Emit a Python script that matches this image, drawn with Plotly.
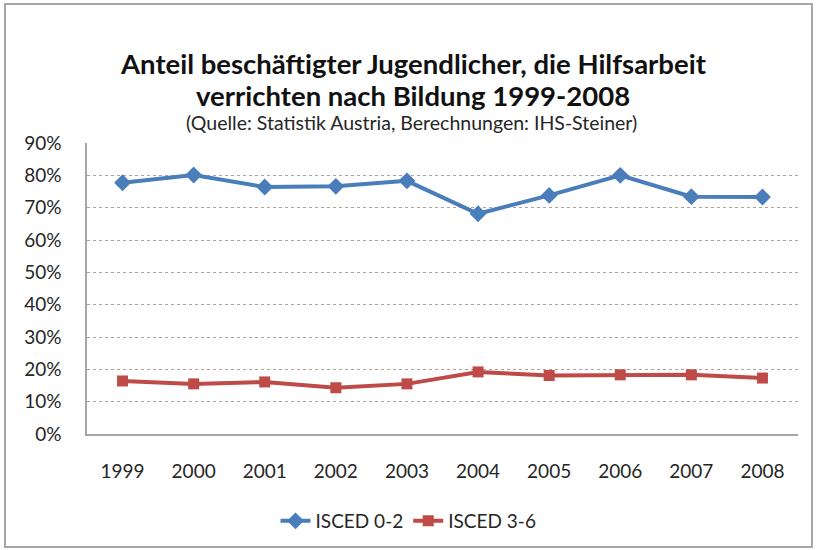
import plotly.graph_objects as go

years = ["1999", "2000", "2001", "2002", "2003", "2004", "2005", "2006", "2007", "2008"]
isced_0_2 = [0.777, 0.801, 0.764, 0.766, 0.783, 0.681, 0.738, 0.800, 0.734, 0.733]
isced_3_6 = [0.164, 0.155, 0.161, 0.143, 0.155, 0.192, 0.181, 0.183, 0.183, 0.173]
y_ticks = [0, 0.1, 0.2, 0.3, 0.4, 0.5, 0.6, 0.7, 0.8, 0.9]

FONT = "Lato"
W, H = 817, 550
L, R, T, B = 87, 19, 143, 116

fig = go.Figure()
fig.add_trace(go.Scatter(
    x=years, y=isced_0_2, name="ISCED 0-2", mode="lines+markers",
    line=dict(color="#4A7EBB", width=4),
    marker=dict(symbol="diamond", size=13, color="#4A7EBB"),
))
fig.add_trace(go.Scatter(
    x=years, y=isced_3_6, name="ISCED 3-6", mode="lines+markers",
    line=dict(color="#BE4B48", width=4),
    marker=dict(symbol="square", size=11, color="#BE4B48"),
))

pw = W - L - R
ph = H - T - B

def px_x(x):
    return (x - L) / pw

def px_y(y):
    return (H - B - y) / ph

fig.update_layout(
    width=W, height=H,
    margin=dict(l=L, r=R, t=T, b=B, autoexpand=False),
    paper_bgcolor="white", plot_bgcolor="white",
    font=dict(family=FONT, color="#262626", size=19),
    showlegend=True,
    legend=dict(orientation="h", x=0.5, xanchor="center", xref="container",
                y=(H - 521) / H, yanchor="middle", yref="container",
                font=dict(size=19, color="#262626"), traceorder="normal"),
    xaxis=dict(
        type="category", range=[-0.5, 9.5], showgrid=False,
        showline=True, linecolor="#A6A6A6", linewidth=1.5, mirror=False,
        ticks="", ticklabelstandoff=19, tickfont=dict(size=19, color="#262626"),
    ),
    yaxis=dict(
        range=[0, 0.9], tickvals=y_ticks, tickformat=".0%",
        showgrid=True, gridcolor="#B0A095", griddash="dot", gridwidth=1,
        showline=True, linecolor="#A6A6A6", linewidth=1.5,
        ticks="", ticklabelstandoff=20, tickfont=dict(size=19, color="#262626"),
        zeroline=False,
    ),
    annotations=[
        dict(text="<b>Anteil beschäftigter Jugendlicher, die Hilfsarbeit</b>", x=px_x(413), y=px_y(45),
             xref="paper", yref="paper", showarrow=False, font=dict(size=27.5, color="#111111")),
        dict(text="<b>verrichten nach Bildung 1999-2008</b>", x=px_x(413), y=px_y(77),
             xref="paper", yref="paper", showarrow=False, font=dict(size=27.5, color="#111111")),
        dict(text="(Quelle: Statistik Austria, Berechnungen: IHS-Steiner)", x=px_x(411), y=px_y(109),
             xref="paper", yref="paper", showarrow=False, font=dict(size=19.5, color="#262626")),
    ],
    shapes=[
        dict(type="rect", xref="paper", yref="paper",
             x0=px_x(5), x1=px_x(812), y0=px_y(547), y1=px_y(4),
             line=dict(color="#A6A6A6", width=2), fillcolor="rgba(0,0,0,0)", layer="below"),
    ],
)

fig.write_html("out.html", config={"displayModeBar": False},
               post_script="document.body.style.margin='0';")
